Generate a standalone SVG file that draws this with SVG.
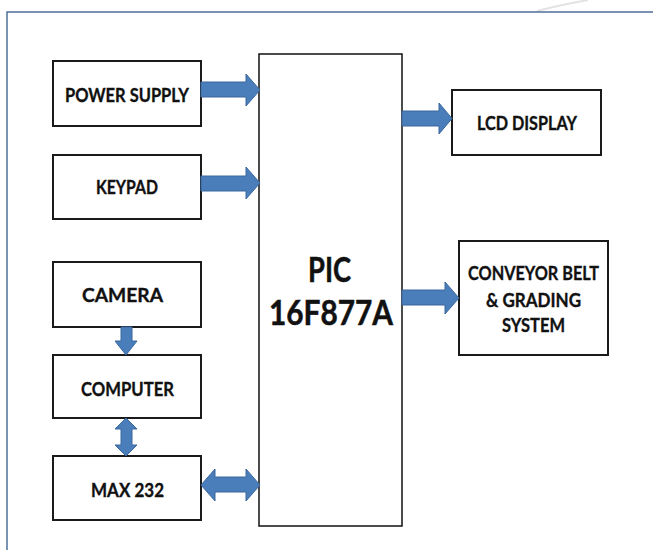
<svg xmlns="http://www.w3.org/2000/svg" width="653" height="550" viewBox="0 0 653 550">
<style>
.box{fill:#fff;stroke:#1a1a1a;stroke-width:2}
.main{fill:#fff;stroke:#111;stroke-width:1.5}
.lbl{font-family:Lato,"Liberation Sans",sans-serif;font-weight:bold;font-size:19px;fill:#111;stroke:#111;stroke-width:0.35}
.big{font-family:Lato,"Liberation Sans",sans-serif;font-weight:bold;font-size:34px;fill:#111;stroke:#111;stroke-width:0.5}
.arr{fill:#4a7ebb;stroke:#3a679c;stroke-width:1}
</style>
<rect width="653" height="550" fill="#fff"/>
<path d="M537,11 Q560,5 588,0" fill="none" stroke="#e2e2e2" stroke-width="2"/>
<path d="M7,550 V12 H653" fill="none" stroke="#50709a" stroke-width="1.5"/>
<g id="pic">
<rect class="main" x="259" y="54" width="143" height="472"/>
<text class="big" x="308" y="282" textLength="43" lengthAdjust="spacingAndGlyphs">PIC</text>
<text class="big" x="269" y="325" textLength="124" lengthAdjust="spacingAndGlyphs">16F877A</text>
</g>
<g id="power">
<rect class="box" x="53" y="61" width="148" height="65"/>
<text class="lbl" x="65" y="102" textLength="124" lengthAdjust="spacingAndGlyphs">POWER SUPPLY</text>
</g>
<g id="keypad">
<rect class="box" x="53" y="155" width="148" height="64"/>
<text class="lbl" x="96" y="194" textLength="62" lengthAdjust="spacingAndGlyphs">KEYPAD</text>
</g>
<g id="camera">
<rect class="box" x="53" y="262" width="148" height="65"/>
<text class="lbl" x="82" y="302" textLength="81" lengthAdjust="spacingAndGlyphs">CAMERA</text>
</g>
<g id="computer">
<rect class="box" x="53" y="355" width="148" height="63"/>
<text class="lbl" x="81" y="396" textLength="93" lengthAdjust="spacingAndGlyphs">COMPUTER</text>
</g>
<g id="max232">
<rect class="box" x="53" y="456" width="148" height="64"/>
<text class="lbl" x="91" y="497" textLength="73" lengthAdjust="spacingAndGlyphs">MAX 232</text>
</g>
<g id="lcd">
<rect class="box" x="452" y="90" width="149" height="65"/>
<text class="lbl" x="477" y="130" textLength="100" lengthAdjust="spacingAndGlyphs">LCD DISPLAY</text>
</g>
<g id="conveyor">
<rect class="box" x="459" y="241" width="149" height="114"/>
<text class="lbl" x="468" y="280" textLength="131" lengthAdjust="spacingAndGlyphs">CONVEYOR BELT</text>
<text class="lbl" x="486" y="307" textLength="95" lengthAdjust="spacingAndGlyphs">&amp; GRADING</text>
<text class="lbl" x="502" y="332" textLength="63" lengthAdjust="spacingAndGlyphs">SYSTEM</text>
</g>
<g id="connectors">
<polygon class="arr" points="201,82 246,82 246,74 260,90 246,106 246,97 201,97"/>
<polygon class="arr" points="201,176 246,176 246,167 260,183 246,199 246,191 201,191"/>
<polygon class="arr" points="402,111 439,111 439,103 452,118.5 439,134 439,126 402,126"/>
<polygon class="arr" points="402,290 445,290 445,282 459,298 445,314 445,305 402,305"/>
<polygon class="arr" points="121,327 132,327 132,341 137,341 126,355 115,341 121,341"/>
<polygon class="arr" points="126,418 137,429 132,429 132,445 137,445 126,456 115,445 121,445 121,429 115,429"/>
<polygon class="arr" points="201,485 215,469 215,477 246,477 246,469 260,485 246,501 246,492 215,492 215,501"/>
</g>
</svg>
